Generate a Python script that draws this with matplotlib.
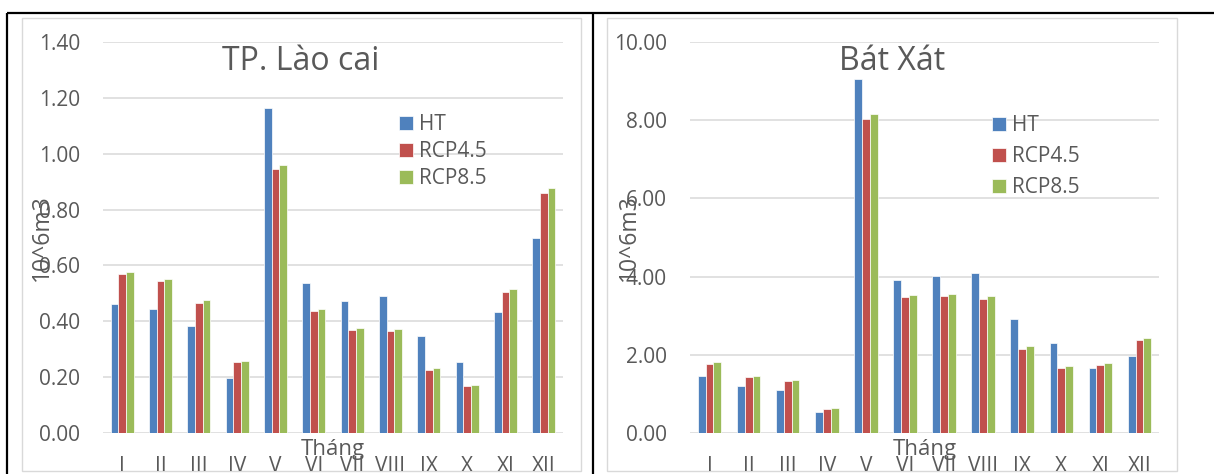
import matplotlib
matplotlib.use("Agg")
import matplotlib.pyplot as plt
from matplotlib.lines import Line2D
from matplotlib.patches import Rectangle
from matplotlib.transforms import Bbox, TransformedBbox
import numpy as np

plt.rcParams['font.family'] = ['Open Sans', 'DejaVu Sans']

months = ["I", "II", "III", "IV", "V", "VI", "VII", "VIII", "IX", "X", "XI", "XII"]
series_names = ["HT", "RCP4.5", "RCP8.5"]
colors = ["#4F81BD", "#C0504D", "#9BBB59"]

# TP. Lào cai (10^6 m3)
laocai_ht = [0.462, 0.444, 0.382, 0.197, 1.165, 0.536, 0.473, 0.492, 0.346, 0.255, 0.434, 0.699]
laocai_rcp45 = [0.568, 0.543, 0.467, 0.254, 0.944, 0.437, 0.369, 0.366, 0.226, 0.167, 0.505, 0.859]
laocai_rcp85 = [0.578, 0.552, 0.475, 0.259, 0.960, 0.444, 0.377, 0.374, 0.232, 0.173, 0.516, 0.877]

# Bát Xát (10^6 m3)
batxat_ht = [1.46, 1.19, 1.09, 0.545, 9.06, 3.92, 4.01, 4.09, 2.91, 2.31, 1.65, 1.98]
batxat_rcp45 = [1.76, 1.44, 1.32, 0.62, 8.02, 3.48, 3.50, 3.43, 2.16, 1.66, 1.74, 2.37]
batxat_rcp85 = [1.81, 1.46, 1.36, 0.64, 8.15, 3.54, 3.56, 3.51, 2.23, 1.72, 1.78, 2.43]

W, H = 1214, 474
fig = plt.figure(figsize=(W / 100, H / 100), dpi=100)

TEXT = "#595959"
GRID = "#d9d9d9"


def fx(x):
    return x / W


def fy(y):
    return 1 - y / H


def panel(box, ax_rect, title, title_x, ymax, yticks, series, legend_xy, legend_spacing):
    bx0, by0, bx1, by1 = box
    fig.add_artist(Rectangle((fx(bx0), fy(by1)), fx(bx1 - bx0), (by1 - by0) / H,
                             transform=fig.transFigure, fill=False,
                             edgecolor=GRID, linewidth=1.0, zorder=0))
    ax0, ay0, ax1, ay1 = ax_rect
    ax = fig.add_axes([fx(ax0), fy(ay1), fx(ax1 - ax0), (ay1 - ay0) / H])
    x = np.arange(len(months))
    w = 0.2
    for i, (vals, c, name) in enumerate(zip(series, colors, series_names)):
        ax.bar(x + (i - 1) * w, vals, width=w, color=c, edgecolor="white",
               linewidth=0.5, label=name, zorder=3)
    ax.set_xlim(-0.5, len(months) - 0.5)
    ax.set_ylim(0, ymax)
    ax.set_yticks(yticks)
    ax.set_yticklabels([f"{v:.2f}" for v in yticks])
    ax.set_xticks(x)
    ax.set_xticklabels(months)
    for s in ax.spines.values():
        s.set_visible(False)
    ax.grid(axis="y", color=GRID, linewidth=1.1, zorder=0)
    ax.set_axisbelow(True)
    ax.tick_params(axis="y", length=0, pad=16.5, labelsize=15, labelcolor=TEXT)
    ax.tick_params(axis="x", length=0, pad=16.5, labelsize=15, labelcolor=TEXT)
    clip = TransformedBbox(Bbox.from_extents(fx(bx0), fy(by1), fx(bx1), fy(by0)),
                           fig.transFigure)
    for lab in ax.get_xticklabels():
        lab.set_clip_box(clip)
        lab.set_clip_on(True)

    fig.text(fx(title_x), fy(62), title, ha="center", va="center",
             fontsize=23, color=TEXT)
    cx = (ax0 + ax1) / 2
    fig.text(fx(cx), fy(439), "Tháng", ha="center", va="top",
             fontsize=16, color=TEXT)
    fig.text(fx(ax0 - 61), fy((ay0 + ay1) / 2), "10^6m3", ha="center",
             va="center", rotation=90, fontsize=16.5, color=TEXT)

    ax.legend(loc="upper left", bbox_to_anchor=(fx(legend_xy[0]), fy(legend_xy[1])),
              bbox_transform=fig.transFigure, frameon=False, borderpad=0,
              fontsize=15, labelcolor=TEXT, handlelength=0.68,
              handleheight=0.68, handletextpad=0.3,
              labelspacing=legend_spacing, borderaxespad=0)
    return ax


panel((22, 18, 581, 471), (103, 42, 563, 433), "TP. Lào cai", 301,
      1.4, [0.0, 0.2, 0.4, 0.6, 0.8, 1.0, 1.2, 1.4],
      [laocai_ht, laocai_rcp45, laocai_rcp85], (399, 114), 0.3)
panel((607, 18, 1177, 471), (690, 42, 1159, 433), "Bát Xát", 892,
      10.0, [0.0, 2.0, 4.0, 6.0, 8.0, 10.0],
      [batxat_ht, batxat_rcp45, batxat_rcp85], (992, 115), 0.48)

# table borders
for (x0, y0, x1, y1) in [(7, 13, W, 13), (7, 13, 7, H), (593, 13, 593, H)]:
    fig.add_artist(Line2D([fx(x0), fx(x1)], [fy(y0), fy(y1)],
                          transform=fig.transFigure, color="black",
                          linewidth=1.6, solid_capstyle="butt"))

fig.savefig("out.png", dpi=100)
